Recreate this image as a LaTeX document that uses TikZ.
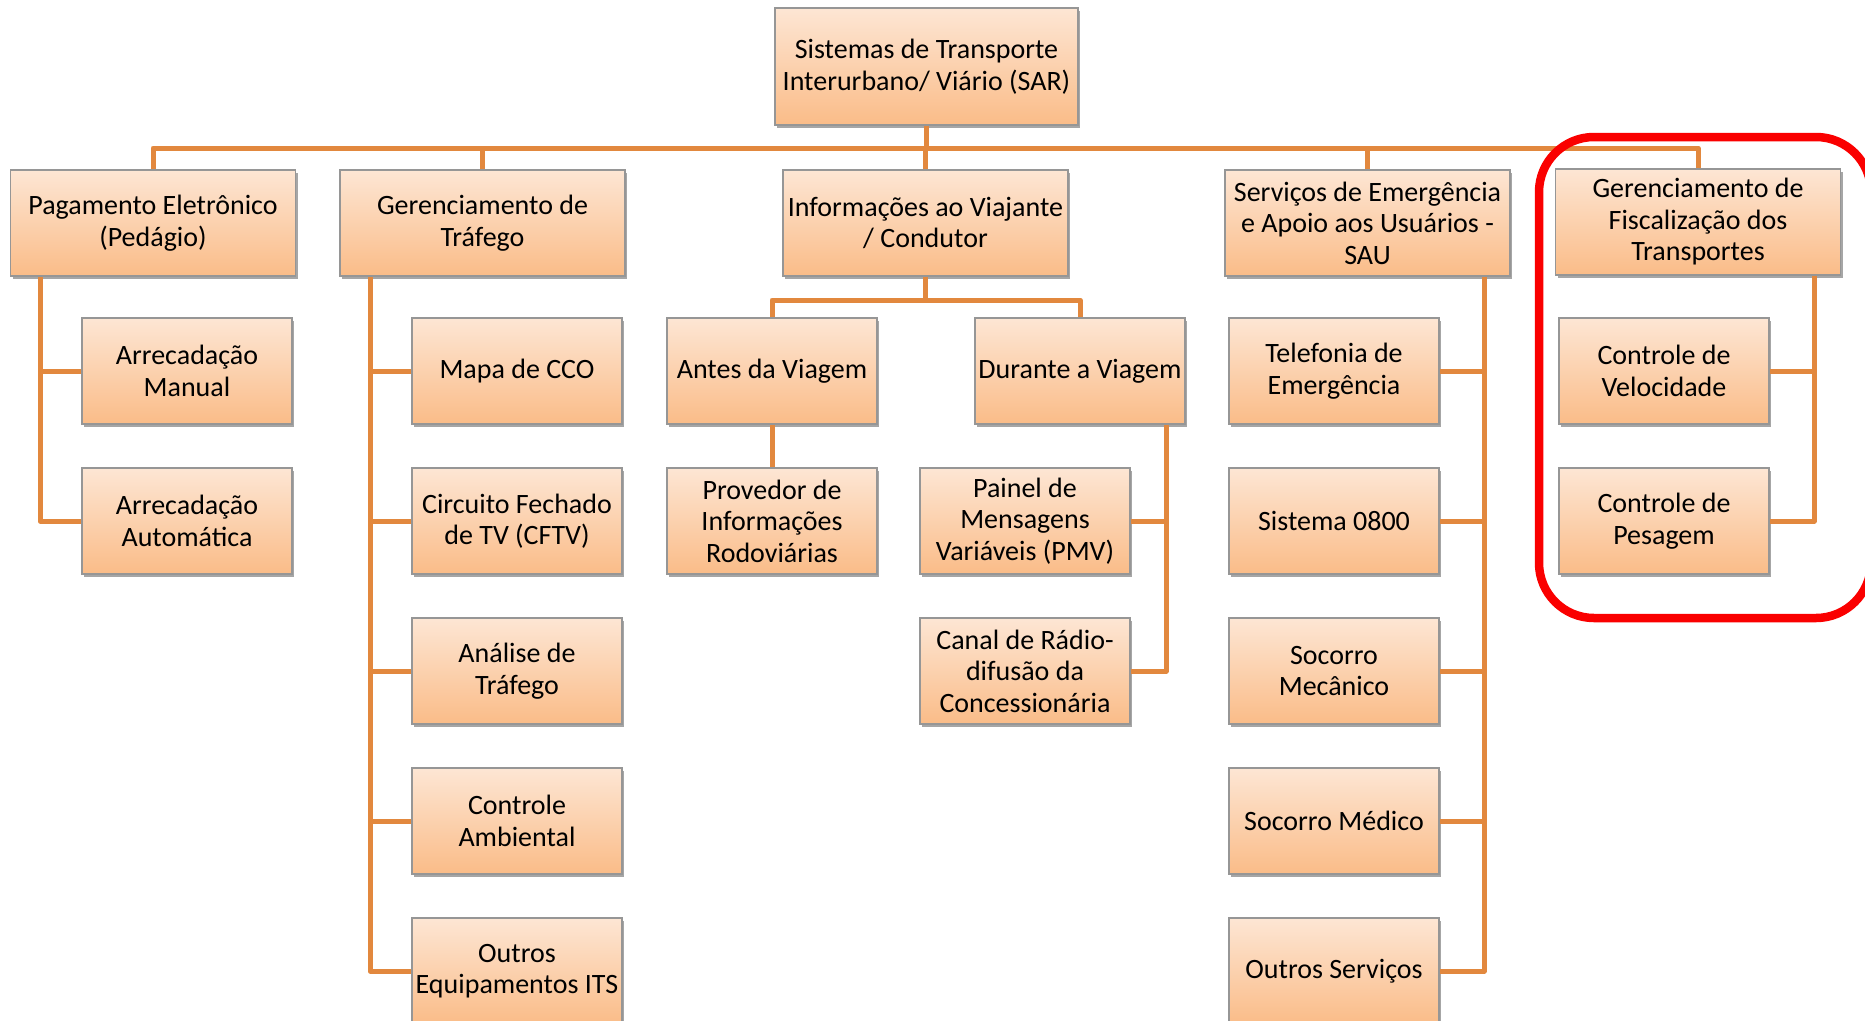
\documentclass[tikz,border=0pt]{standalone}
\usepackage{fontspec}
\setmainfont{Carlito}
\usetikzlibrary{shadows}
\definecolor{connc}{RGB}{226,136,62}
\definecolor{boxtop}{RGB}{253,230,212}
\definecolor{boxbot}{RGB}{250,188,136}
\definecolor{boxline}{RGB}{150,150,150}
\definecolor{hilite}{RGB}{250,0,0}
\tikzset{
  box/.style={draw=boxline, line width=1.2pt, top color=boxtop, bottom color=boxbot,
    align=center, inner sep=0pt, font=\fontsize{28}{31.5}\selectfont,
    drop shadow={shadow xshift=2pt, shadow yshift=-3pt, opacity=0.35, fill=black}},
  lvl1/.style={box, minimum width=285pt, minimum height=106pt},
  lvl2/.style={box, minimum width=210pt, minimum height=106pt},
  conn/.style={draw=connc, line width=5pt, line join=round}
}
\begin{document}
\begin{tikzpicture}[x=1pt,y=-1pt]
\useasboundingbox[fill=white] (0,0) rectangle (1865,1020);

% root
\node[box, minimum width=303pt, minimum height=117pt] (root) at (926.5,66.5)
  {Sistemas de Transporte\\Interurbano/ Viário (SAR)};

% level 1
\node[lvl1] (pag)  at (153,223)    {Pagamento Eletrônico\\(Pedágio)};
\node[lvl1] (traf) at (482.5,223)  {Gerenciamento de\\Tráfego};
\node[lvl1] (info) at (925.5,223)  {Informações ao Viajante\\/ Condutor};
\node[lvl1] (serv) at (1367.5,223) {Serviços de Emergência\\e Apoio aos Usuários -\\SAU};
\node[lvl1] (fisc) at (1698,222)   {Gerenciamento de\\Fiscalização dos\\Transportes};

% Pagamento children
\node[lvl2] (am) at (187,371) {Arrecadação\\Manual};
\node[lvl2] (aa) at (187,521) {Arrecadação\\Automática};

% Trafego children
\node[lvl2] (mapa) at (517,371) {Mapa de CCO};
\node[lvl2] (cftv) at (517,521) {Circuito Fechado\\de TV (CFTV)};
\node[lvl2] (anal) at (517,671) {Análise de\\Tráfego};
\node[lvl2] (amb)  at (517,821) {Controle\\Ambiental};
\node[lvl2] (oeq)  at (517,971) {Outros\\Equipamentos ITS};

% Info children
\node[lvl2] (antes)  at (772,371)  {Antes da Viagem};
\node[lvl2] (dur)    at (1080,371) {Durante a Viagem};
\node[lvl2] (prov)   at (772,521)  {Provedor de\\Informações\\Rodoviárias};
\node[lvl2] (painel) at (1025,521) {Painel de\\Mensagens\\Variáveis (PMV)};
\node[lvl2] (canal)  at (1025,671) {Canal de Rádio-\\difusão da\\Concessionária};

% Servicos children
\node[lvl2] (tel)  at (1334,371) {Telefonia de\\Emergência};
\node[lvl2] (s08)  at (1334,521) {Sistema 0800};
\node[lvl2] (smec) at (1334,671) {Socorro\\Mecânico};
\node[lvl2] (smed) at (1334,821) {Socorro Médico};
\node[lvl2] (osv)  at (1334,971) {Outros Serviços};

% Fiscalizacao children
\node[lvl2] (vel) at (1664,371) {Controle de\\Velocidade};
\node[lvl2] (pes) at (1664,521) {Controle de\\Pesagem};

% helper coordinates
\coordinate (bus) at (0,148);
\coordinate (sub) at (0,300);
\coordinate (px) at (40,0);
\coordinate (tx) at (370,0);
\coordinate (dx) at (1166,0);
\coordinate (sx) at (1484,0);
\coordinate (fx) at (1814,0);

% main bus
\draw[conn] (root.south) -- (root.south |- bus);
\draw[conn] (pag.north) -- (pag.north |- bus) -- (fisc.north |- bus) -- (fisc.north);
\draw[conn] (traf.north) -- (traf.north |- bus);
\draw[conn] (info.north) -- (info.north |- bus);
\draw[conn] (serv.north) -- (serv.north |- bus);

% Pagamento
\draw[conn] (pag.south -| px) |- (aa.west);
\draw[conn] (am.west) -- (am.west -| px);

% Trafego
\draw[conn] (traf.south -| tx) |- (oeq.west);
\draw[conn] (mapa.west) -- (mapa.west -| tx);
\draw[conn] (cftv.west) -- (cftv.west -| tx);
\draw[conn] (anal.west) -- (anal.west -| tx);
\draw[conn] (amb.west) -- (amb.west -| tx);

% Info
\draw[conn] (info.south) -- (info.south |- sub);
\draw[conn] (antes.north) -- (antes.north |- sub) -- (dur.north |- sub) -- (dur.north);
\draw[conn] (antes.south) -- (prov.north);
\draw[conn] (dur.south -| dx) |- (canal.east);
\draw[conn] (painel.east) -- (painel.east -| dx);

% Servicos
\draw[conn] (serv.south -| sx) |- (osv.east);
\draw[conn] (tel.east) -- (tel.east -| sx);
\draw[conn] (s08.east) -- (s08.east -| sx);
\draw[conn] (smec.east) -- (smec.east -| sx);
\draw[conn] (smed.east) -- (smed.east -| sx);

% Fiscalizacao
\draw[conn] (fisc.south -| fx) |- (pes.east);
\draw[conn] (vel.east) -- (vel.east -| fx);

% highlight
\draw[hilite, line width=8.5pt, rounded corners=55pt] (1539,137) rectangle (1871,618);
\end{tikzpicture}
\end{document}
